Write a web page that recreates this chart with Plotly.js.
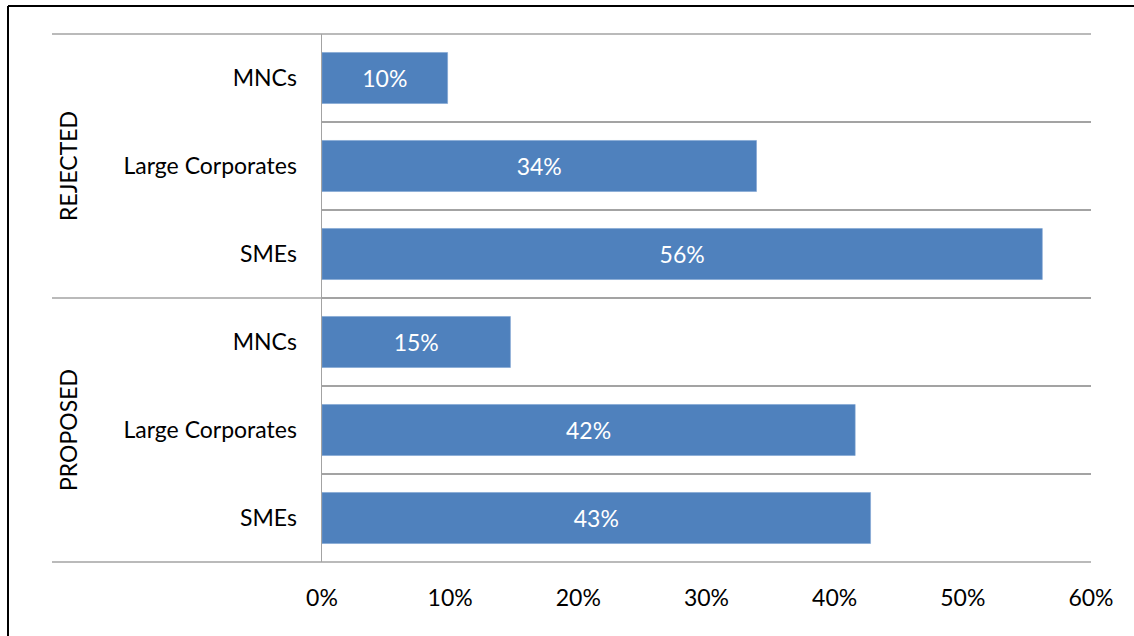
<!DOCTYPE html>
<html>
<head>
<meta charset="utf-8">
<script src="https://cdn.plot.ly/plotly-3.0.1.min.js"></script>
<style>
  html, body { margin: 0; padding: 0; background: #fff; }
  #chart { width: 1134px; height: 636px; }
</style>
</head>
<body>
<div id="chart"></div>
<script>
// ---- data (bottom to top, as drawn on the category axis) ----
const groups   = ["PROPOSED", "PROPOSED", "PROPOSED", "REJECTED", "REJECTED", "REJECTED"];
const segments = ["SMEs", "Large Corporates", "MNCs", "SMEs", "Large Corporates", "MNCs"];
const shares   = [0.428, 0.416, 0.147, 0.562, 0.339, 0.098];
const groupNames = ["REJECTED", "PROPOSED"];
const xTicks   = [0, 0.1, 0.2, 0.3, 0.4, 0.5, 0.6];

const cats = groups.map((g, i) => g + " | " + segments[i]);

const FONT = "Lato, 'Open Sans', sans-serif";
const GRID = "#a3a3a3";
const FS = 23;

// plot area in pixels: x 322..1091, y 34..562
const plotL = 322, plotR = 1091, plotT = 34, plotB = 562;
const px2x = p => (p - plotL) / (plotR - plotL);
const px2y = p => (plotB - p) / (plotB - plotT);

const trace = {
  type: "bar",
  orientation: "h",
  x: shares,
  y: cats,
  marker: { color: "#4f81bd", line: { color: "#7ea3d2", width: 0.6 } },
  texttemplate: "%{x:.0%}",
  textposition: "inside",
  insidetextanchor: "middle",
  textangle: 0,
  constraintext: "none",
  textfont: { color: "#ffffff", size: FS, family: FONT },
  hoverinfo: "skip"
};

const sepLine = (yp) => ({
  type: "line", xref: "paper", yref: "paper",
  x0: px2x(52), x1: 1, y0: yp, y1: yp,
  line: { color: GRID, width: 1.5 }
});

const layout = {
  width: 1134, height: 636,
  margin: { l: plotL, r: 1134 - plotR, t: plotT, b: 636 - plotB, pad: 0 },
  paper_bgcolor: "#ffffff", plot_bgcolor: "#ffffff",
  showlegend: false,
  bargap: 0.42,
  font: { family: FONT, color: "#000000", size: FS },
  xaxis: {
    range: [0, 0.6],
    tickmode: "array", tickvals: xTicks,
    tickformat: ".0%",
    showgrid: false, zeroline: false, showline: false,
    ticks: "", ticklabelstandoff: 20,
    tickfont: { size: FS, family: FONT, color: "#000" },
    fixedrange: true
  },
  yaxis: {
    type: "category",
    categoryorder: "array", categoryarray: cats,
    tickmode: "array", tickvals: cats, ticktext: segments,
    tickson: "boundaries",
    showgrid: true, gridcolor: GRID, gridwidth: 1.5,
    showline: true, linecolor: GRID, linewidth: 1.5,
    zeroline: false, ticks: "", ticklabelstandoff: 19,
    tickfont: { size: FS, family: FONT, color: "#000" },
    fixedrange: true
  },
  shapes: [
    sepLine(1), sepLine(0.5), sepLine(0),
    // outer frame (left and top edges)
    { type: "line", xref: "paper", yref: "paper",
      x0: px2x(8), x1: px2x(8), y0: px2y(640), y1: px2y(6),
      line: { color: "#000", width: 2 } },
    { type: "line", xref: "paper", yref: "paper",
      x0: px2x(8), x1: px2x(1140), y0: px2y(6), y1: px2y(6),
      line: { color: "#000", width: 2 } }
  ],
  annotations: groupNames.map((g, i) => ({
    text: g, xref: "paper", yref: "paper",
    x: px2x(68), y: i === 0 ? 0.75 : 0.25,
    xanchor: "center", yanchor: "middle",
    textangle: -90, showarrow: false,
    font: { size: FS, family: FONT, color: "#000" }
  }))
};

Plotly.newPlot("chart", [trace], layout, { displayModeBar: false, staticPlot: true });
</script>
</body>
</html>
